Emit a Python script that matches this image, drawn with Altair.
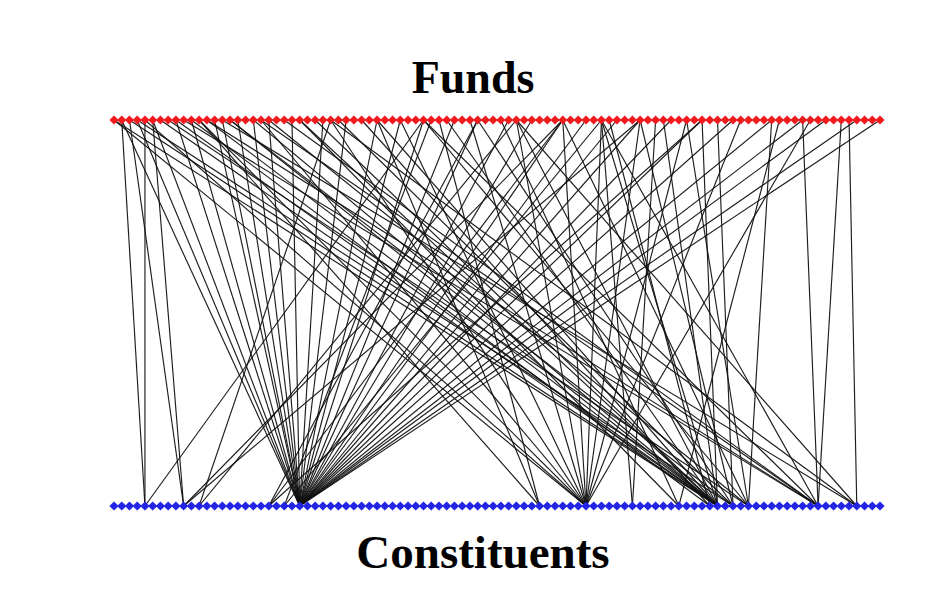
import altair as alt
import pandas as pd

# Node counts (funds on top, constituents on bottom)
n_funds = 100
n_constituents = 100

# Edge list: constituent index -> fund indices
edge_groups = {
    24: [1, 3, 5, 8, 10, 13, 14, 16, 18, 20, 23, 27, 30, 34, 37, 40, 44, 47, 51, 54, 58, 61, 65, 68, 72, 76, 80, 85, 89, 92, 96, 99],
    61: [0, 4, 11, 19, 28, 37, 46, 52, 58, 63, 68, 74, 81, 90],
    78: [0, 2, 6, 8, 12, 15, 18, 24, 26, 34, 43, 52, 63, 71, 76],
    80: [3, 15, 29, 47, 68, 78],
    82: [7, 20, 40, 58, 74, 85],
    77: [10, 32, 64],
    73: [24, 50, 86],
    67: [63, 70],
    91: [9, 12, 19, 22, 40, 63, 89, 94],
    96: [14, 28, 52, 95],
    55: [11, 34, 42],
    4: [1, 4, 40],
    9: [2, 5, 58, 68],
    11: [28, 52],
    20: [47, 58, 76],
    22: [41, 63],
}

edge_fund = []
edge_constituent = []
for c, fs in edge_groups.items():
    for f in fs:
        edge_fund.append(f)
        edge_constituent.append(c)

edges = pd.DataFrame({"fund": edge_fund, "constituent": edge_constituent,
                      "top": 1, "bottom": 0})
funds = pd.DataFrame({"i": list(range(n_funds)), "row": 1})
cons = pd.DataFrame({"i": list(range(n_constituents)), "row": 0})

labels_top = ["Funds"]
labels_bottom = ["Constituents"]

xs = alt.Scale(domain=[0, 99], range=[106, 872])
ys = alt.Scale(domain=[0, 1], range=[498, 112])

rules = alt.Chart(edges).mark_rule(color="#111111", strokeWidth=1.15, opacity=0.95).encode(
    x=alt.X("fund:Q", scale=xs, axis=None),
    x2="constituent:Q",
    y=alt.Y("top:Q", scale=ys, axis=None),
    y2="bottom:Q",
)

fund_pts = alt.Chart(funds).mark_point(shape="diamond", filled=True, size=85,
                                       color="#f01c1c", opacity=1).encode(
    x=alt.X("i:Q", scale=xs, axis=None),
    y=alt.Y("row:Q", scale=ys, axis=None),
)

cons_pts = alt.Chart(cons).mark_point(shape="diamond", filled=True, size=85,
                                      color="#2424e6", opacity=1).encode(
    x=alt.X("i:Q", scale=xs, axis=None),
    y=alt.Y("row:Q", scale=ys, axis=None),
)

t_top = alt.Chart(pd.DataFrame({"t": labels_top})).mark_text(
    font="Liberation Serif", fontWeight="bold", fontSize=46, color="black",
    align="center", baseline="alphabetic"
).encode(text="t:N", x=alt.value(465), y=alt.value(85))

t_bot = alt.Chart(pd.DataFrame({"t": labels_bottom})).mark_text(
    font="Liberation Serif", fontWeight="bold", fontSize=47, color="black",
    align="center", baseline="alphabetic"
).encode(text="t:N", x=alt.value(475), y=alt.value(560))

chart = alt.layer(rules, fund_pts, cons_pts, t_top, t_bot).properties(
    width=926, height=590,
    autosize=alt.AutoSizeParams(type="fit", contains="padding"),
    padding=0,
    background="white",
).configure_view(stroke=None)

chart.save("out.html", embed_options={"renderer": "svg", "actions": False})
